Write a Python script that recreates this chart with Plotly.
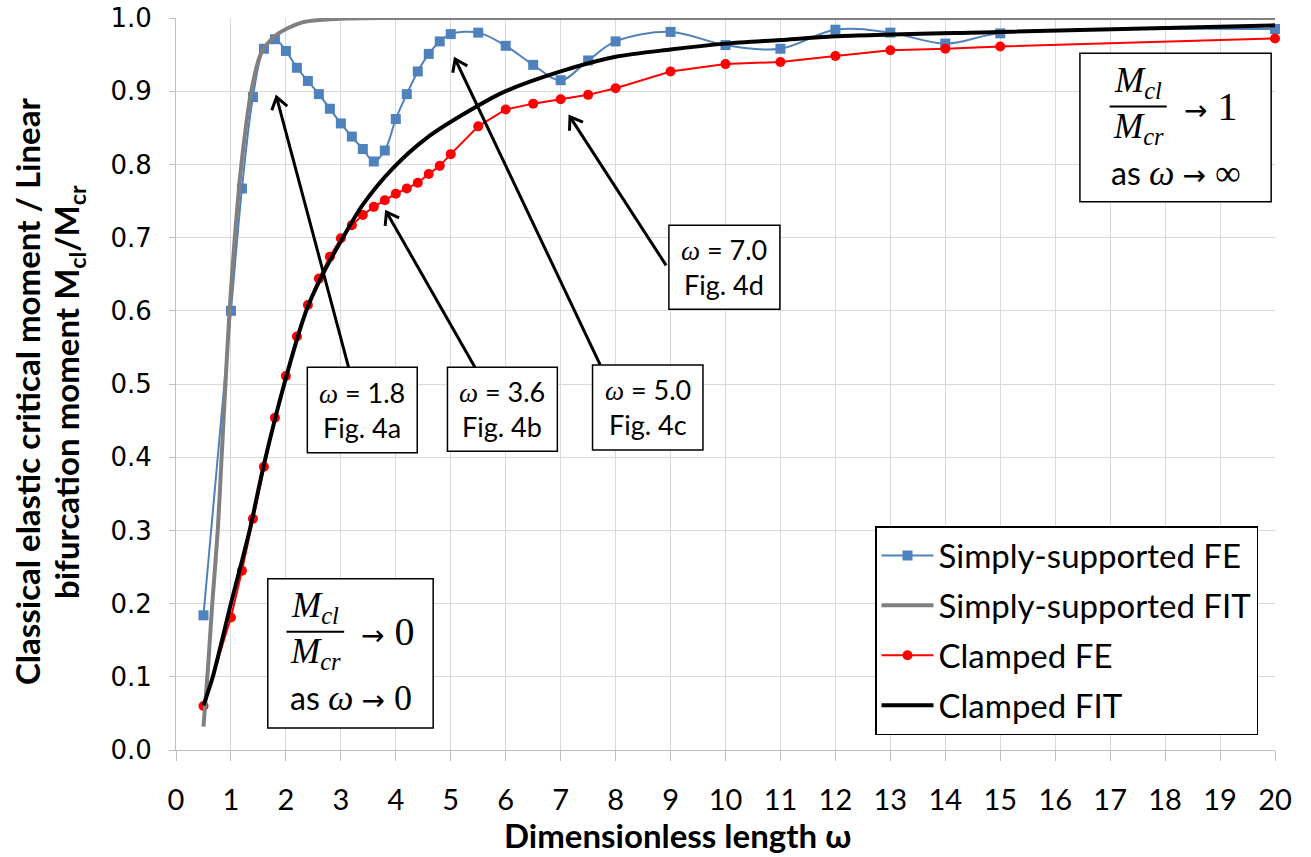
import math
import plotly.graph_objects as go

# ---- Finite-element results (dimensionless length vs. moment ratio) ----
fe_omega = [0.5, 1.0, 1.2, 1.4, 1.6, 1.8, 2.0, 2.2, 2.4, 2.6, 2.8, 3.0, 3.2, 3.4, 3.6,
            3.8, 4.0, 4.2, 4.4, 4.6, 4.8, 5.0, 5.5, 6.0, 6.5, 7.0, 7.5, 8.0, 9.0, 10.0,
            11.0, 12.0, 13.0, 14.0, 15.0, 20.0]
ss_fe = [0.184, 0.600, 0.767, 0.892, 0.958, 0.971, 0.955, 0.932, 0.914, 0.896, 0.876,
         0.856, 0.838, 0.821, 0.804, 0.819, 0.862, 0.896, 0.927, 0.951, 0.968, 0.978,
         0.980, 0.962, 0.936, 0.915, 0.942, 0.968, 0.981, 0.963, 0.958, 0.984, 0.980,
         0.965, 0.979, 0.985]
cl_fe = [0.060, 0.181, 0.245, 0.316, 0.387, 0.454, 0.511, 0.565, 0.608, 0.644, 0.674,
         0.699, 0.717, 0.731, 0.742, 0.751, 0.760, 0.767, 0.775, 0.787, 0.798, 0.814,
         0.852, 0.875, 0.883, 0.889, 0.895, 0.904, 0.927, 0.937, 0.940, 0.948, 0.956,
         0.958, 0.961, 0.972]

# ---- Fitted curves ----
ss_fit_omega = [0.5, 0.58, 0.66, 0.76, 0.83, 0.90, 0.975, 1.07, 1.19, 1.37, 1.55, 1.83,
                2.3, 3.0, 4.0, 6.0, 10.0, 20.0]
ss_fit = [0.032, 0.11, 0.20, 0.30, 0.40, 0.50, 0.60, 0.70, 0.80, 0.90, 0.952, 0.977,
          0.994, 0.999, 1.0, 1.0, 1.0, 1.0]
cl_fit_omega = [0.5, 0.67, 1.0, 1.34, 1.6, 1.97, 2.37, 2.65, 3.0, 3.4, 3.95, 4.56, 5.47,
                6.0, 7.0, 8.0, 9.0, 10.0, 11.0, 12.0, 15.0, 20.0]
cl_fit = [0.061, 0.10, 0.20, 0.30, 0.39, 0.50, 0.60, 0.647, 0.695, 0.745, 0.795, 0.836,
          0.879, 0.900, 0.927, 0.947, 0.957, 0.965, 0.970, 0.975, 0.981, 0.990]

x_ticks = list(range(0, 21))
y_ticks = [round(0.1 * i, 1) for i in range(11)]

# ---- Figure geometry ----
W, H = 1311, 857
ML, MR, MT, MB = 176, 36, 18, 107
X_RANGE = (0, 20)
Y_RANGE = (0, 1)
PW, PH = W - ML - MR, H - MT - MB
SX = PW / (X_RANGE[1] - X_RANGE[0])
SY = PH / (Y_RANGE[1] - Y_RANGE[0])

BLUE = "#4f81bd"
RED = "#ff0000"
GRAY = "#808080"
GRID = "#d9d9d9"
SANS = "Lato"
SERIF = "Liberation Serif"

fig = go.Figure()
fig.add_trace(go.Scatter(x=fe_omega, y=ss_fe, name="Simply-supported FE", mode="lines+markers",
                         line=dict(color=BLUE, width=2, shape="spline", smoothing=1),
                         marker=dict(symbol="square", size=10, color=BLUE),
                         legendgroup="a", legendrank=1, cliponaxis=False))
fig.add_trace(go.Scatter(x=fe_omega, y=cl_fe, name="Clamped FE", mode="lines+markers",
                         line=dict(color=RED, width=2),
                         marker=dict(symbol="circle", size=10, color=RED),
                         legendgroup="c", legendrank=3, cliponaxis=False))
fig.add_trace(go.Scatter(x=ss_fit_omega, y=ss_fit, name="Simply-supported FIT", mode="lines",
                         line=dict(color=GRAY, width=4, shape="spline", smoothing=0.8),
                         legendgroup="b", legendrank=2, cliponaxis=False))
fig.add_trace(go.Scatter(x=cl_fit_omega, y=cl_fit, name="Clamped FIT", mode="lines",
                         line=dict(color="black", width=4, shape="spline", smoothing=0.8),
                         legendgroup="d", legendrank=4, cliponaxis=False))


def to_px(x, y):
    return ML + (x - X_RANGE[0]) * SX, MT + (Y_RANGE[1] - y) * SY


def to_data(px, py):
    return X_RANGE[0] + (px - ML) / SX, Y_RANGE[1] - (py - MT) / SY


shapes = []
annotations = []


def box(x0, y0, x1, y1):
    shapes.append(dict(type="rect", xref="x", yref="y", x0=x0, y0=y0, x1=x1, y1=y1,
                       fillcolor="white", line=dict(color="black", width=1.5), layer="above"))


def arrow(tail, tip, arm=14, ang=35):
    shapes.append(dict(type="line", xref="x", yref="y", x0=tail[0], y0=tail[1],
                       x1=tip[0], y1=tip[1], line=dict(color="black", width=3), layer="above"))
    tx, ty = to_px(*tip)
    bx, by = to_px(*tail)
    d = math.hypot(bx - tx, by - ty)
    ux, uy = (bx - tx) / d, (by - ty) / d
    pts = []
    for s in (1, -1):
        a = math.radians(ang * s)
        rx = ux * math.cos(a) - uy * math.sin(a)
        ry = ux * math.sin(a) + uy * math.cos(a)
        pts.append(to_data(tx + arm * rx, ty + arm * ry))
    path = (f"M {pts[0][0]},{pts[0][1]} L {tip[0]},{tip[1]} L {pts[1][0]},{pts[1][1]}")
    shapes.append(dict(type="path", xref="x", yref="y", path=path,
                       line=dict(color="black", width=3), layer="above"))


def text(x, y, s, size, family=SANS, ref="x"):
    annotations.append(dict(x=x, y=y, xref=ref, yref=ref.replace("x", "y"), text=s,
                            showarrow=False, xanchor="center", yanchor="middle",
                            font=dict(family=family, size=size, color="black")))


OMEGA = f'<span style="font-family:{SERIF};font-style:italic">ω</span>'
ARROW = '<span style="font-family:DejaVu Sans;font-size:28px">→</span>'

# Labelled cases with leader arrows
cases = [
    # (label, fig, box x0, box x1, box y0, box y1, tail, tip)
    ("1.8", "4a", 2.39, 4.39, 0.406, 0.523, (3.14, 0.523), (1.83, 0.892)),
    ("3.6", "4b", 4.94, 6.94, 0.408, 0.523, (5.44, 0.523), (3.83, 0.735)),
    ("5.0", "4c", 7.58, 9.59, 0.410, 0.526, (7.72, 0.526), (5.08, 0.944)),
    ("7.0", "4d", 8.97, 10.99, 0.602, 0.717, (8.92, 0.662), (7.17, 0.865)),
]
for lab, fg, x0, x1, y0, y1, tail, tip in cases:
    arrow(tail, tip)
    box(x0, y0, x1, y1)
    xc = (x0 + x1) / 2
    ym = (y0 + y1) / 2
    text(xc, ym + 0.024, f"{OMEGA} = {lab}", 27)
    text(xc, ym - 0.024, f"Fig. {fg}", 27)


limit_sym = {"0": "0", "1": "∞"}


def limit_box(x0, y0, x1, y1, xc, yb, bar_half, arrow_x, limit, as_y, as_x):
    box(x0, y0, x1, y1)
    text(xc, yb + 0.033, "<i>M</i><sub><i>cl</i></sub>", 35, SERIF)
    shapes.append(dict(type="line", xref="x", yref="y", x0=xc - bar_half, x1=xc + bar_half,
                       y0=yb, y1=yb, line=dict(color="black", width=2), layer="above"))
    text(xc, yb - 0.030, "<i>M</i><sub><i>cr</i></sub>", 35, SERIF)
    text(arrow_x, yb, f"{ARROW} {limit}", 40, SERIF)
    text(as_x, as_y, f'as <span style="font-family:{SERIF};font-style:italic;font-size:36px">ω</span> '
         f'{ARROW}<span style="font-family:{SERIF};font-size:36px"> {limit_sym[limit]}</span>', 32)


limit_box(1.67, 0.030, 4.68, 0.234, 2.535, 0.1616, 0.525, 3.85, "0", 0.071, 3.18)
limit_box(16.45, 0.749, 19.93, 0.952, 17.51, 0.879, 0.52, 18.82, "1", 0.788, 18.20)

# Axis titles
annotations.append(dict(x=(677 - ML) / PW, y=-(835 - MT - PH) / PH, xref="paper", yref="paper",
                        text="<b>Dimensionless length ω</b>", showarrow=False,
                        xanchor="center", yanchor="middle",
                        font=dict(family=SANS, size=33, color="black")))
for cx, line in ((27, "Classical elastic critical moment / Linear"),
                 (68, "bifurcation moment M<sub>cl</sub>/M<sub>cr</sub>")):
    annotations.append(dict(x=(cx - ML) / PW, y=(MT + PH - 392) / PH, xref="paper", yref="paper",
                            text=f"<b>{line}</b>", showarrow=False, textangle=-90,
                            xanchor="center", yanchor="middle",
                            font=dict(family=SANS, size=33, color="black")))

fig.update_layout(
    width=W, height=H,
    margin=dict(l=ML, r=MR, t=MT, b=MB, pad=0, autoexpand=False),
    paper_bgcolor="white", plot_bgcolor="white",
    showlegend=True,
    legend=dict(x=(875 - ML) / PW, y=(MT + PH - 526) / PH, xanchor="left", yanchor="top",
                bgcolor="white", bordercolor="black", borderwidth=1.5,
                font=dict(family=SANS, size=33, color="black"),
                traceorder="grouped", tracegroupgap=4, itemwidth=52),
    xaxis=dict(range=list(X_RANGE), tickmode="array", tickvals=x_ticks,
               ticktext=[str(v) for v in x_ticks], automargin=False,
               showgrid=True, gridcolor=GRID, gridwidth=1, zeroline=False,
               showline=True, linecolor="#bfbfbf", linewidth=1,
               ticks="outside", ticklen=10, tickcolor="#bfbfbf",
               ticklabelstandoff=14,
               tickfont=dict(family=SANS, size=29, color="black")),
    yaxis=dict(range=list(Y_RANGE), tickmode="array", tickvals=y_ticks,
               ticktext=[f"{v:.1f}" for v in y_ticks], automargin=False,
               showgrid=True, gridcolor=GRID, gridwidth=1, zeroline=False,
               showline=True, linecolor="#bfbfbf", linewidth=1,
               ticks="outside", ticklen=6, tickcolor="#bfbfbf",
               ticklabelstandoff=12,
               tickfont=dict(family="DejaVu Sans", size=26, color="black")),
    shapes=shapes,
    annotations=annotations,
)

fig.write_html("out.html")
